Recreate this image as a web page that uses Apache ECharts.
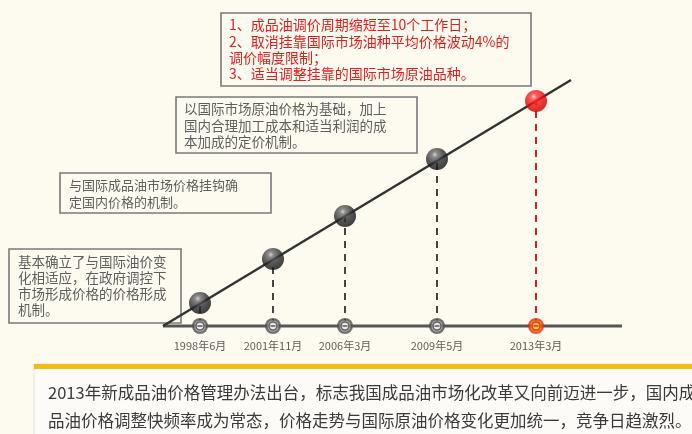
<!DOCTYPE html>
<html>
<head>
<meta charset="utf-8">
<script src="https://cdn.jsdelivr.net/npm/echarts@6/dist/echarts.min.js"></script>
<style>
html,body{margin:0;padding:0;background:#fdfaf0;}
#c{width:692px;height:434px;}
</style>
</head>
<body>
<div id="c"></div>
<script>
// ---- data ----
const dates = ['1998年6月', '2001年11月', '2006年3月', '2009年5月', '2013年3月'];
const stagePos = [37, 110, 182, 274, 373];     // position along the timeline
const stageLevel = [23, 67, 110, 167, 225];    // height of each stage on the trend line
const trendLine = [[0, 0], [408, 246]];
const timelineEnd = 459;

const box1Lines = ['1、成品油调价周期缩短至10个工作日；', '2、取消挂靠国际市场油种平均价格波动4%的', '调价幅度限制；', '3、适当调整挂靠的国际市场原油品种。'];
const box2Lines = ['以国际市场原油价格为基础，加上', '国内合理加工成本和适当利润的成', '本加成的定价机制。'];
const box3Lines = ['与国际成品油市场价格挂钩确', '定国内价格的机制。'];
const box4Lines = ['基本确立了与国际油价变', '化相适应，在政府调控下', '市场形成价格的价格形成', '机制。'];
const bottomLines = ['2013年新成品油价格管理办法出台，标志我国成品油市场化改革又向前迈进一步，国内成', '品油价格调整快频率成为常态，价格走势与国际原油价格变化更加统一，竞争日趋激烈。'];

const FONT = '"Noto Sans CJK SC", "Noto Sans", sans-serif';
const last = dates.length - 1;

const grayBall = {type: 'radial', x: 0.4, y: 0.3, r: 0.75, colorStops: [
  {offset: 0, color: '#c8c8c8'}, {offset: 0.18, color: '#6a6a6a'}, {offset: 0.55, color: '#2c2c2c'}, {offset: 1, color: '#0d0d0d'}]};
const redBall = {type: 'radial', x: 0.4, y: 0.3, r: 0.75, colorStops: [
  {offset: 0, color: '#ffcaca'}, {offset: 0.2, color: '#ff3030'}, {offset: 0.7, color: '#e00000'}, {offset: 1, color: '#b00000'}]};

const stagePts = stagePos.map((x, i) => [x, stageLevel[i]]);
// per-point styled data for the baseline markers
const basePts = (gray, red) => stagePos.map((x, i) => ({value: [x, 0], itemStyle: i === last ? red : gray}));

function box(x, y, w, h, lines, color, fs, lh, tx, ty, stroke) {
  return {
    type: 'group', children: [
      {type: 'rect', shape: {x: x, y: y, width: w, height: h},
       style: {fill: 'rgba(0,0,0,0)', stroke: stroke || '#7a7a7a', lineWidth: 1.6}},
      {type: 'text', x: tx, y: ty,
       style: {text: lines.join('\n'), fill: color, fontSize: fs, fontFamily: FONT, lineHeight: lh, verticalAlign: 'top'}}
    ]
  };
}

const chart = echarts.init(document.getElementById('c'));
chart.setOption({
  backgroundColor: '#fdfaf0',
  animation: false,
  grid: {left: 0, right: 0, top: 0, bottom: 0},
  xAxis: {type: 'value', min: -163, max: 529, show: false},
  yAxis: {type: 'value', min: -108, max: 326, show: false},
  series: [
    { // baseline of timeline
      type: 'line', data: [[0, 0], [timelineEnd, 0]], symbol: 'none', z: 2,
      lineStyle: {color: '#555', width: 3}
    },
    { // trend line
      type: 'line', data: trendLine, symbol: 'none', z: 3,
      lineStyle: {color: '#333', width: 2.5}
    },
    { // dashed drop lines
      type: 'scatter', data: [], z: 2,
      markLine: {
        silent: true, symbol: 'none', animation: false, label: {show: false},
        data: stagePts.map((p, i) => [
          {coord: [p[0], 0], lineStyle: {color: i === last ? '#e02020' : '#444', width: 2, type: [7, 6]}},
          {coord: [p[0], p[1]]}
        ])
      }
    },
    { // baseline markers: outer disc + date labels
      type: 'scatter', symbol: 'circle', symbolSize: 16, z: 4,
      data: basePts({color: '#4f4f4f'}, {color: '#e8300c'}),
      label: {show: true, position: 'bottom', distance: 6,
               formatter: p => dates[p.dataIndex], fontSize: 11, color: '#333', fontFamily: FONT}
    },
    { // light ring
      type: 'scatter', symbol: 'circle', symbolSize: 11, z: 5,
      data: basePts({color: '#d6d6d6'}, {color: '#f9b21e'})
    },
    { // inner ring
      type: 'scatter', symbol: 'circle', symbolSize: 8, z: 6,
      data: basePts({color: '#f2f2f2', borderColor: '#444', borderWidth: 1.6},
                    {color: '#fbd060', borderColor: '#d82000', borderWidth: 1.6})
    },
    { // inner bar
      type: 'scatter', symbol: 'rect', symbolSize: [5, 1.6], z: 7,
      data: basePts({color: '#444'}, {color: '#d82000'})
    },
    { // balls
      type: 'scatter', symbol: 'circle', symbolSize: 22, z: 8,
      data: stagePts.map((p, i) => ({value: p, itemStyle: {color: i === last ? redBall : grayBall}}))
    }
  ],
  graphic: [
    box(221, 13, 310, 73, box1Lines, '#e02020', 14, 16.3, 229, 17, '#7a7a7a'),
    box(176, 97, 241, 56, box2Lines, '#5e5e5e', 13.5, 16.5, 184, 101),
    box(60, 173, 211, 40, box3Lines, '#5e5e5e', 13, 17, 69, 177),
    box(9, 249, 172, 74, box4Lines, '#5e5e5e', 13.5, 16, 18, 254),
    {type: 'rect', shape: {x: 34, y: 364, width: 670, height: 80},
     style: {fill: '#fcfbf7', stroke: '#e4e2da', lineWidth: 1}},
    {type: 'rect', shape: {x: 34, y: 364, width: 670, height: 5}, style: {fill: '#f6bb10'}},
    {type: 'text', x: 48, y: 379,
     style: {text: bottomLines.join('\n'), fill: '#3a3a3a', fontSize: 16.5, fontFamily: FONT, lineHeight: 28, verticalAlign: 'top'}}
  ]
});
</script>
</body>
</html>
